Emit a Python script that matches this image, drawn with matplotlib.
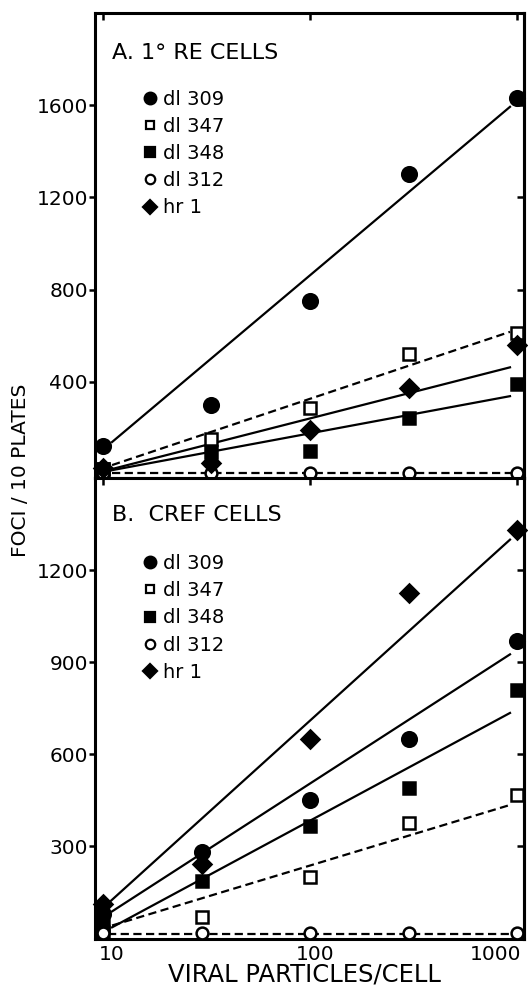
import numpy as np
import matplotlib
matplotlib.use("Agg")
import matplotlib.pyplot as plt
from matplotlib.lines import Line2D
from matplotlib.transforms import ScaledTranslation

# virus dose (particles/cell)
dose_re = [10, 33, 100, 300, 1000]
dose_cref = [10, 30, 100, 300, 1000]
strains = ["dl 309", "dl 347", "dl 348", "dl 312", "hr 1"]

# panel A: primary rat embryo cells, foci per 10 plates
re_cells = {
    "dl 309": [120, 300, 750, 1300, 1630],
    "dl 347": [20, 150, 285, 520, 610],
    "dl 348": [20, 95, 100, 245, 390],
    "dl 312": [5, 3, 4, 3, 3],
    "hr 1":   [25, 50, 190, 375, 560],
}
# hand-drawn lines: (x start, y start, x end, y end)
re_lines = {
    "dl 309": (11, 139, 920, 1593),
    "dl 347": (11, 39, 920, 617),
    "dl 348": (11, 17, 920, 338),
    "dl 312": (11, 6, 1050, 6),
    "hr 1":   (11, 22, 920, 463),
}

# panel B: CREF cells
cref_cells = {
    "dl 309": [80, 280, 450, 650, 970],
    "dl 347": [20, 70, 200, 375, 465],
    "dl 348": [40, 185, 365, 490, 810],
    "dl 312": [15, 15, 15, 18, 15],
    "hr 1":   [110, 240, 650, 1125, 1330],
}
cref_lines = {
    "dl 309": (11, 87, 920, 925),
    "dl 347": (11, 41, 920, 434),
    "dl 348": (11, 35, 920, 734),
    "dl 312": (10.5, 13, 1050, 13),
    "hr 1":   (10.4, 110, 920, 1299),
}

# marker style per strain: (marker, filled, size, dashed line)
style = {
    "dl 309": ("o", True, 10.5, False),
    "dl 347": ("s", False, 8, True),
    "dl 348": ("s", True, 9, False),
    "dl 312": ("o", False, 8.5, True),
    "hr 1":   ("D", True, 9, False),
}

plt.rcParams["font.family"] = "DejaVu Sans"

fig = plt.figure(figsize=(5.28, 9.89), dpi=100)
left, width = 95 / 528, (524 - 95) / 528
axA = fig.add_axes([left, 1 - 478 / 989, width, (478 - 13) / 989])
axB = fig.add_axes([left, 1 - 939 / 989, width, (939 - 478) / 989])


def draw(ax, dose, points, lines):
    for s in strains:
        m, filled, ms, dashed = style[s]
        x0, y0, x1, y1 = lines[s]
        ls = (0, (3.7, 2)) if dashed else "-"
        ax.plot([x0, x1], [y0, y1], color="black", lw=1.6, ls=ls, zorder=2)
        ax.plot(dose, points[s], ls="none", marker=m, ms=ms,
                mfc="black" if filled else "white", mec="black", mew=1.8,
                zorder=3, clip_on=False)


def legend(ax, y):
    handles = []
    for s in strains:
        m, filled, ms, dashed = style[s]
        handles.append(Line2D([], [], ls="none", marker=m, ms=ms * 0.8,
                              mfc="black" if filled else "white", mec="black", mew=1.6))
    ax.legend(handles, strains, loc="upper left", bbox_to_anchor=(0.115, y),
              frameon=False, fontsize=14, handlelength=0.6, handletextpad=0.35,
              labelspacing=0.42, borderpad=0, borderaxespad=0)


draw(axA, dose_re, re_cells, re_lines)
draw(axB, dose_cref, cref_cells, cref_lines)
legend(axA, 0.835)
legend(axB, 0.835)

axA.text(0.04, 0.914, "A. 1° RE CELLS", transform=axA.transAxes, fontsize=16,
         ha="left", va="center")
axB.text(0.04, 0.920, "B.  CREF CELLS", transform=axB.transAxes, fontsize=16,
         ha="left", va="center")

for ax in (axA, axB):
    ax.set_xscale("log")
    ax.set_xlim(9.1, 1075)
    for sp in ax.spines.values():
        sp.set_linewidth(2.2)
    ax.tick_params(axis="y", which="major", left=True, right=False, direction="out",
                   length=4, width=1.8, labelsize=14.5, pad=1)
    ax.xaxis.set_minor_locator(matplotlib.ticker.NullLocator())
    ax.set_xticks([10, 100, 1000])
    ax.tick_params(axis="x", which="major", bottom=False, top=True, direction="in",
                   length=5, width=1.8, labelbottom=False)

axA.set_ylim(-17, 2000)
axA.set_yticks([400, 800, 1200, 1600])
axB.set_ylim(-3, 1500)
axB.set_yticks([300, 600, 900, 1200])

# inward ticks on the right side
for ax in (axA, axB):
    sec = ax.secondary_yaxis("right")
    sec.set_yticks(ax.get_yticks())
    sec.tick_params(direction="in", length=5, width=1.8, labelright=False)
    sec.spines["right"].set_linewidth(2.2)

# x tick labels, offset like the hand lettering
xlabels = ["10", "100", "1000"]
xpos = [10, 100, 1000]
xshift = [8, 5, 4]
xalign = ["center", "center", "right"]
for lab, xv, dx, ha in zip(xlabels, xpos, xshift, xalign):
    axB.text(xv, -0.033, lab, transform=axB.get_xaxis_transform()
             + ScaledTranslation(dx / 100, 0, fig.dpi_scale_trans),
             fontsize=14.5, ha=ha, va="center")

fig.text(304 / 528, 1 - 975 / 989, "VIRAL PARTICLES/CELL", fontsize=17.5,
         ha="center", va="center")
fig.text(21 / 528, 1 - 470 / 989, "FOCI / 10 PLATES", fontsize=14.5,
         rotation=90, ha="center", va="center")

fig.savefig("out.png", dpi=100)
